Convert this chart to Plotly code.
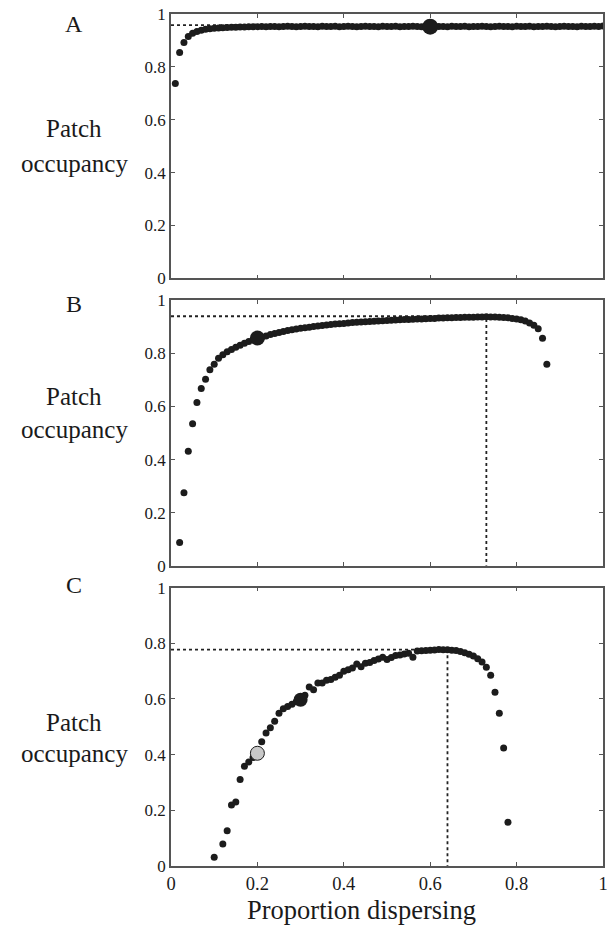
import plotly.graph_objects as go

# ---------------- data ----------------
prop_A = [0.01,0.02,0.03,0.04,0.05,0.06,0.07,0.08,0.09,0.10,
          0.11,0.12,0.13,0.14,0.15,0.16,0.17,0.18,0.19,0.20,
          0.21,0.22,0.23,0.24,0.25,0.26,0.27,0.28,0.29,0.30,
          0.31,0.32,0.33,0.34,0.35,0.36,0.37,0.38,0.39,0.40,
          0.41,0.42,0.43,0.44,0.45,0.46,0.47,0.48,0.49,0.50,
          0.51,0.52,0.53,0.54,0.55,0.56,0.57,0.58,0.59,0.60,
          0.61,0.62,0.63,0.64,0.65,0.66,0.67,0.68,0.69,0.70,
          0.71,0.72,0.73,0.74,0.75,0.76,0.77,0.78,0.79,0.80,
          0.81,0.82,0.83,0.84,0.85,0.86,0.87,0.88,0.89,0.90,
          0.91,0.92,0.93,0.94,0.95,0.96,0.97,0.98,0.99,1.00]
occ_A = [0.737,0.854,0.892,0.915,0.927,0.934,0.939,0.942,0.944,0.946,
         0.947,0.948,0.949,0.950,0.950,0.951,0.951,0.952,0.952,0.952,
         0.953,0.952,0.953,0.953,0.952,0.953,0.954,0.953,0.952,0.953,
         0.954,0.953,0.953,0.952,0.954,0.953,0.953,0.954,0.952,0.953,
         0.954,0.953,0.952,0.953,0.954,0.953,0.953,0.952,0.954,0.953,
         0.953,0.954,0.952,0.953,0.953,0.954,0.953,0.952,0.953,0.953,
         0.954,0.953,0.953,0.952,0.954,0.953,0.953,0.954,0.952,0.953,
         0.953,0.954,0.953,0.952,0.953,0.954,0.953,0.953,0.952,0.954,
         0.953,0.953,0.954,0.952,0.953,0.953,0.954,0.953,0.952,0.953,
         0.954,0.953,0.953,0.952,0.954,0.953,0.953,0.954,0.953,0.955]
sel_A = [0.60, 0.952]          # highlighted point (x, y)
opt_A = [1.00, 0.958]          # optimum (x, y)

prop_B = [0.02,0.03,0.04,0.05,0.06,0.07,0.08,0.09,0.10,
          0.11,0.12,0.13,0.14,0.15,0.16,0.17,0.18,0.19,0.20,
          0.21,0.22,0.23,0.24,0.25,0.26,0.27,0.28,0.29,0.30,
          0.31,0.32,0.33,0.34,0.35,0.36,0.37,0.38,0.39,0.40,
          0.41,0.42,0.43,0.44,0.45,0.46,0.47,0.48,0.49,0.50,
          0.51,0.52,0.53,0.54,0.55,0.56,0.57,0.58,0.59,0.60,
          0.61,0.62,0.63,0.64,0.65,0.66,0.67,0.68,0.69,0.70,
          0.71,0.72,0.73,0.74,0.75,0.76,0.77,0.78,0.79,0.80,
          0.81,0.82,0.83,0.84,0.85,0.86,0.87]
occ_B = [0.087,0.275,0.431,0.535,0.615,0.668,0.703,0.738,0.759,
         0.782,0.795,0.806,0.815,0.823,0.831,0.838,0.845,0.851,0.856,
         0.861,0.866,0.871,0.875,0.879,0.883,0.886,0.889,0.892,0.895,
         0.897,0.899,0.901,0.903,0.905,0.907,0.909,0.911,0.912,0.913,
         0.915,0.916,0.917,0.918,0.919,0.920,0.921,0.922,0.923,0.924,
         0.925,0.926,0.927,0.928,0.928,0.929,0.930,0.930,0.931,0.932,
         0.932,0.933,0.933,0.934,0.934,0.935,0.935,0.936,0.936,0.936,
         0.937,0.937,0.938,0.937,0.937,0.936,0.935,0.934,0.932,0.930,
         0.927,0.922,0.915,0.906,0.893,0.857,0.759]
sel_B = [0.20, 0.858]
opt_B = [0.73, 0.940]

prop_C = [0.10,0.12,0.13,0.14,0.15,0.16,0.17,0.18,0.19,0.20,
          0.21,0.22,0.23,0.24,0.25,0.26,0.27,0.28,0.29,0.30,
          0.31,0.32,0.33,0.34,0.35,0.36,0.37,0.38,0.39,0.40,
          0.41,0.42,0.43,0.44,0.45,0.46,0.47,0.48,0.49,0.50,
          0.51,0.52,0.53,0.54,0.55,0.56,0.57,0.58,0.59,0.60,
          0.61,0.62,0.63,0.64,0.65,0.66,0.67,0.68,0.69,0.70,
          0.71,0.72,0.73,0.74,0.75,0.76,0.77,0.78]
occ_C = [0.031,0.079,0.127,0.219,0.230,0.311,0.358,0.374,0.390,0.405,
         0.446,0.478,0.497,0.520,0.549,0.565,0.573,0.581,0.590,0.597,
         0.613,0.643,0.633,0.657,0.657,0.667,0.670,0.678,0.685,0.700,
         0.705,0.711,0.726,0.716,0.728,0.731,0.738,0.744,0.750,0.742,
         0.749,0.756,0.758,0.762,0.764,0.750,0.772,0.773,0.774,0.775,
         0.776,0.778,0.777,0.777,0.775,0.774,0.771,0.766,0.761,0.754,
         0.745,0.733,0.714,0.685,0.624,0.549,0.424,0.157]
sel_C_black = [0.30, 0.597]
sel_C_grey = [0.20, 0.405]
opt_C = [0.64, 0.777]

tick_vals = [0, 0.2, 0.4, 0.6, 0.8, 1]
tick_text = ["0", "0.2", "0.4", "0.6", "0.8", "1"]
panel_letters = ["A", "B", "C"]
y_label_lines = ["Patch", "occupancy"]
x_label = "Proportion dispersing"

# ---------------- figure ----------------
FONT = "Times New Roman, Liberation Serif, serif"
DOT = "#1c1c1c"
AX = "#555555"
TXT = "#1a1a1a"

fig = go.Figure()

panels = [
    (prop_A, occ_A, opt_A, [(sel_A, DOT, 16)]),
    (prop_B, occ_B, opt_B, [(sel_B, DOT, 15)]),
    (prop_C, occ_C, opt_C, [(sel_C_black, DOT, 14), (sel_C_grey, "#c8c8c8", 14)]),
]

for i, (px, py, opt, sels) in enumerate(panels):
    xa = "x" if i == 0 else f"x{i+1}"
    ya = "y" if i == 0 else f"y{i+1}"
    # dotted guide lines to the optimum (vertical part only when inside the frame)
    if opt[0] < 1:
        gx, gy = [0, opt[0], opt[0]], [opt[1], opt[1], 0]
    else:
        gx, gy = [0, opt[0]], [opt[1], opt[1]]
    fig.add_trace(go.Scatter(x=gx, y=gy,
                             mode="lines", line=dict(color="#222", width=1.8, dash="dot"),
                             xaxis=xa, yaxis=ya, showlegend=False, hoverinfo="skip"))
    fig.add_trace(go.Scatter(x=px, y=py, mode="markers",
                             marker=dict(size=7, color=DOT, line=dict(width=0)),
                             xaxis=xa, yaxis=ya, showlegend=False))
    for (pt, col, sz) in sels:
        fig.add_trace(go.Scatter(x=[pt[0]], y=[pt[1]], mode="markers",
                                 marker=dict(size=sz, color=col, line=dict(color=DOT, width=1 if col != DOT else 0)),
                                 xaxis=xa, yaxis=ya, showlegend=False))

# layout geometry (pixels -> paper)
L, R, T, B = 171, 5, 12, 60
H = 926 - T - B
def py2paper(p):
    return (926 - B - p) / H

doms = [(277, 12), (565, 299), (866, 587)]
W = 613 - L - R
def px2paper(p):
    return (p - L) / W

axis_common = dict(range=[0, 1], showgrid=False, zeroline=False, showline=True,
                   linecolor=AX, linewidth=1.5, mirror="ticks", ticks="inside",
                   ticklen=4, tickwidth=1.2, tickcolor=AX,
                   tickvals=tick_vals, ticktext=tick_text)

layout = dict(width=613, height=926, margin=dict(l=L, r=R, t=T, b=B),
              paper_bgcolor="white", plot_bgcolor="white", showlegend=False,
              font=dict(family=FONT, color=TXT))

for i, (bot, top) in enumerate(doms):
    sfx = "" if i == 0 else str(i + 1)
    xa = dict(axis_common, domain=[0, 1], anchor="y" + sfx,
              showticklabels=(i == 2), ticklabelstandoff=0,
              tickfont=dict(family=FONT, size=18.5, color=TXT))
    ya = dict(axis_common, domain=[py2paper(bot), py2paper(top)], anchor="x" + sfx,
              ticklabelstandoff=0, tickfont=dict(family=FONT, size=17, color=TXT))
    layout["xaxis" + sfx] = xa
    layout["yaxis" + sfx] = ya

annotations = []
letter_y = [22, 303, 584]
label_y = [(127, 162), (395, 428), (722, 753)]
for i in range(3):
    annotations.append(dict(text=panel_letters[i], x=px2paper(73), y=py2paper(letter_y[i]),
                            xref="paper", yref="paper", showarrow=False,
                            xanchor="center", yanchor="middle",
                            font=dict(family=FONT, size=24, color=TXT)))
    for j, line in enumerate(y_label_lines):
        annotations.append(dict(text=line, x=px2paper(73), y=py2paper(label_y[i][j]),
                                xref="paper", yref="paper", showarrow=False,
                                xanchor="center", yanchor="middle",
                                font=dict(family=FONT, size=25, color=TXT)))
annotations.append(dict(text=x_label, x=px2paper(364), y=py2paper(910),
                        xref="paper", yref="paper", showarrow=False,
                        xanchor="center", yanchor="middle",
                        font=dict(family=FONT, size=26.5, color=TXT)))
layout["annotations"] = annotations

fig.update_layout(**layout)
fig.write_html("out.html")
